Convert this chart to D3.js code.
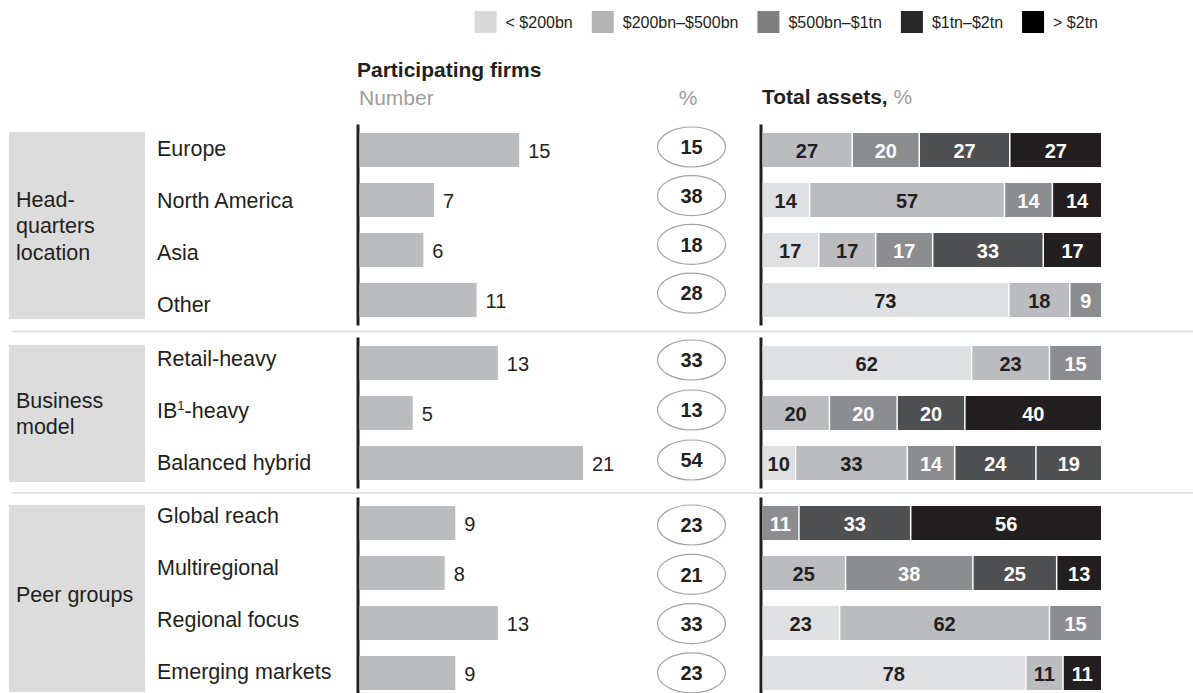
<!DOCTYPE html>
<html>
<head>
<meta charset="utf-8">
<script src="https://cdn.jsdelivr.net/npm/d3@7"></script>
<style>
  html, body { margin: 0; padding: 0; background: #fff; }
  svg { display: block; font-family: "Liberation Sans", Arial, Helvetica, sans-serif; }
</style>
</head>
<body>
<svg id="chart" width="1193" height="693"></svg>
<script>
// ---- Data -------------------------------------------------------------
const tierLabels = ["< $200bn", "$200bn–$500bn", "$500bn–$1tn", "$1tn–$2tn", "> $2tn"];

const groupLabels = [["Head-", "quarters", "location"], ["Business", "model"], ["Peer groups"]];

const categories = [
  "Europe", "North America", "Asia", "Other",
  "Retail-heavy", "IB¹-heavy", "Balanced hybrid",
  "Global reach", "Multiregional", "Regional focus", "Emerging markets"
];
const categoryGroup = [0, 0, 0, 0, 1, 1, 1, 2, 2, 2, 2];

// Participating firms: number and share (%)
const firmCounts = [15, 7, 6, 11, 13, 5, 21, 9, 8, 13, 9];
const firmShares = [15, 38, 18, 28, 33, 13, 54, 23, 21, 33, 23];

// Total assets split (%), with the asset-size tier of each segment
const assetShares = [
  [27, 20, 27, 27],
  [14, 57, 14, 14],
  [17, 17, 17, 33, 17],
  [73, 18, 9],
  [62, 23, 15],
  [20, 20, 20, 40],
  [10, 33, 14, 24, 19],
  [11, 33, 56],
  [25, 38, 25, 13],
  [23, 62, 15],
  [78, 11, 11]
];
const assetTiers = [
  [1, 2, 3, 4],
  [0, 1, 2, 4],
  [0, 1, 2, 3, 4],
  [0, 1, 2],
  [0, 1, 2],
  [1, 2, 3, 4],
  [0, 1, 2, 3, 3],
  [2, 3, 4],
  [1, 2, 3, 4],
  [0, 1, 2],
  [0, 1, 4]
];

// ---- Styling & layout ---------------------------------------------------
const ink = "#231f20";
const muted = "#9d9d9d";
const legendColors = ["#d9d9d9", "#b4b4b4", "#7f7f7f", "#272727", "#000000"];
const tierColors = ["#dfe0e2", "#bbbcbf", "#8c8d90", "#4f5052", "#231f20"];
const tierText = [ink, ink, "#ffffff", "#ffffff", "#ffffff"];

const groupLayout = [
  { barTop: 133, labelTop: 148, ovalTop: 147, ovalStep: 48.7, titleShift: 0 },
  { barTop: 346, labelTop: 358, ovalTop: 360, ovalStep: 50, titleShift: 0 },
  { barTop: 506, labelTop: 515, ovalTop: 525, ovalStep: 49.3, titleShift: -4 }
];
const rowStep = 50, barH = 34, labelStep = 52;

const svg = d3.select("#chart");

const rows = categories.map((name, i) => {
  const g = categoryGroup[i];
  const idx = categoryGroup.slice(0, i).filter(v => v === g).length;
  return { i, name, g, idx };
});

// one band scale per group for the bar rows
const bandFor = groupLayout.map((gl, g) => {
  const n = categoryGroup.filter(v => v === g).length;
  return d3.scaleBand()
    .domain(d3.range(n))
    .range([gl.barTop, gl.barTop + n * rowStep - (rowStep - barH)])
    .paddingInner((rowStep - barH) / rowStep)
    .paddingOuter(0);
});

const xCount = d3.scaleLinear().domain([0, d3.max(firmCounts)]).range([359.5, 583]);
const leftAxisX = 358, rightAxisX = 761;
const stackX0 = 762.5, stackX1 = 1101;

// ---- Legend (right-aligned) -------------------------------------------
const legend = svg.append("g").attr("font-size", 16).attr("fill", ink);
{
  let right = 1098;
  for (let t = tierLabels.length - 1; t >= 0; t--) {
    const txt = legend.append("text").attr("y", 22).attr("dy", "0.35em").text(tierLabels[t]);
    const w = txt.node().getComputedTextLength();
    const tx = right - w;
    txt.attr("x", tx);
    legend.append("rect")
      .attr("x", tx - 9 - 22).attr("y", 11).attr("width", 22).attr("height", 22)
      .attr("fill", legendColors[t]);
    right = tx - 9 - 22 - 19;
  }
}

// ---- Column headers ------------------------------------------------------
svg.append("text").attr("x", 357).attr("y", 77)
  .attr("font-size", 21).attr("font-weight", "bold").attr("fill", ink)
  .text("Participating firms");
svg.append("text").attr("x", 359).attr("y", 105)
  .attr("font-size", 21).attr("fill", muted).text("Number");
svg.append("text").attr("x", 688).attr("y", 105).attr("text-anchor", "middle")
  .attr("font-size", 21).attr("fill", muted).text("%");
const ta = svg.append("text").attr("x", 762).attr("y", 104).attr("font-size", 21);
ta.append("tspan").attr("font-weight", "bold").attr("fill", ink).text("Total assets, ");
ta.append("tspan").attr("fill", muted).text("%");

// ---- Group boxes, labels, axis lines and separators ----------------------
groupLayout.forEach((gl, g) => {
  const band = bandFor[g];
  const n = band.domain().length;
  const top = band(0), bottom = band(n - 1) + band.bandwidth();
  const boxTop = top - 1, boxBottom = bottom + 2;

  svg.append("rect")
    .attr("x", 9).attr("y", boxTop).attr("width", 136).attr("height", boxBottom - boxTop)
    .attr("fill", "#dcdcdc");

  const lines = groupLabels[g];
  const mid = (boxTop + boxBottom) / 2 + gl.titleShift;
  lines.forEach((line, k) => {
    svg.append("text")
      .attr("x", 16).attr("y", mid + (k - (lines.length - 1) / 2) * 26.5)
      .attr("dy", "0.35em").attr("font-size", 21.5).attr("fill", ink)
      .text(line);
  });

  [leftAxisX, rightAxisX].forEach(x => {
    svg.append("line")
      .attr("x1", x).attr("x2", x)
      .attr("y1", top - 8.5).attr("y2", Math.min(bottom + 8.5, 693))
      .attr("stroke", ink).attr("stroke-width", 3);
  });

  if (g < groupLayout.length - 1) {
    const nextTop = bandFor[g + 1](0);
    const sy = ((bottom + 8.5) + (nextTop - 8.5)) / 2;
    svg.append("line")
      .attr("x1", 12).attr("x2", 1193).attr("y1", sy).attr("y2", sy)
      .attr("stroke", "#dadada").attr("stroke-width", 1.5);
  }
});

// ---- Category labels -------------------------------------------------------
rows.forEach(r => {
  const y = groupLayout[r.g].labelTop + r.idx * labelStep;
  const t = svg.append("text").attr("x", 157).attr("y", y).attr("dy", "0.35em")
    .attr("font-size", 21.5).attr("fill", ink);
  const parts = r.name.split("¹");
  if (parts.length > 1) {
    t.append("tspan").text(parts[0]);
    t.append("tspan").attr("font-size", 13).attr("dy", "-0.55em").text("1");
    t.append("tspan").attr("dy", "0.35em").text(parts[1]);
  } else {
    t.text(r.name);
  }
});

// ---- Participating firms: horizontal bars -----------------------------------
const yMid = r => bandFor[r.g](r.idx) + barH / 2;

svg.append("g").selectAll("rect").data(rows).join("rect")
  .attr("x", xCount(0))
  .attr("y", r => bandFor[r.g](r.idx))
  .attr("width", r => xCount(firmCounts[r.i]) - xCount(0))
  .attr("height", barH)
  .attr("fill", "#bbbcbf");

svg.append("g").selectAll("text").data(rows).join("text")
  .attr("x", r => xCount(firmCounts[r.i]) + 9)
  .attr("y", r => yMid(r) + 1)
  .attr("dy", "0.35em")
  .attr("font-size", 20).attr("fill", ink)
  .text(r => firmCounts[r.i]);

// ---- Share of firms (%): ovals ---------------------------------------------
const ovals = svg.append("g").selectAll("g").data(rows).join("g")
  .attr("transform", r => {
    const gl = groupLayout[r.g];
    return `translate(691.5,${gl.ovalTop + r.idx * gl.ovalStep})`;
  });
ovals.append("ellipse").attr("rx", 34).attr("ry", 20)
  .attr("fill", "#fff").attr("stroke", "#a3a3a3").attr("stroke-width", 1.2);
ovals.append("text").attr("text-anchor", "middle").attr("dy", "0.36em")
  .attr("font-size", 20).attr("font-weight", "bold").attr("fill", ink)
  .text(r => firmShares[r.i]);

// ---- Total assets: 100% stacked bars --------------------------------------
rows.forEach(r => {
  const vals = assetShares[r.i];
  const tiers = assetTiers[r.i];
  const total = d3.sum(vals);
  const x = d3.scaleLinear().domain([0, total]).range([stackX0, stackX1]);
  const cum = d3.cumsum(vals);
  const segs = vals.map((v, k) => ({ v, tier: tiers[k], x0: cum[k] - v, x1: cum[k], last: k === vals.length - 1 }));
  const y0 = bandFor[r.g](r.idx);
  const gRow = svg.append("g");
  gRow.selectAll("rect").data(segs).join("rect")
    .attr("x", s => x(s.x0))
    .attr("y", y0)
    .attr("width", s => x(s.x1) - x(s.x0) - (s.last ? 0 : 1.5))
    .attr("height", barH)
    .attr("fill", s => tierColors[s.tier]);
  gRow.selectAll("text").data(segs).join("text")
    .attr("x", s => (x(s.x0) + x(s.x1) - (s.last ? 0 : 1.5)) / 2)
    .attr("y", y0 + barH / 2 + 1)
    .attr("dy", "0.35em")
    .attr("text-anchor", "middle")
    .attr("font-size", 20).attr("font-weight", "bold")
    .attr("fill", s => tierText[s.tier])
    .text(s => s.v);
});
</script>
</body>
</html>
